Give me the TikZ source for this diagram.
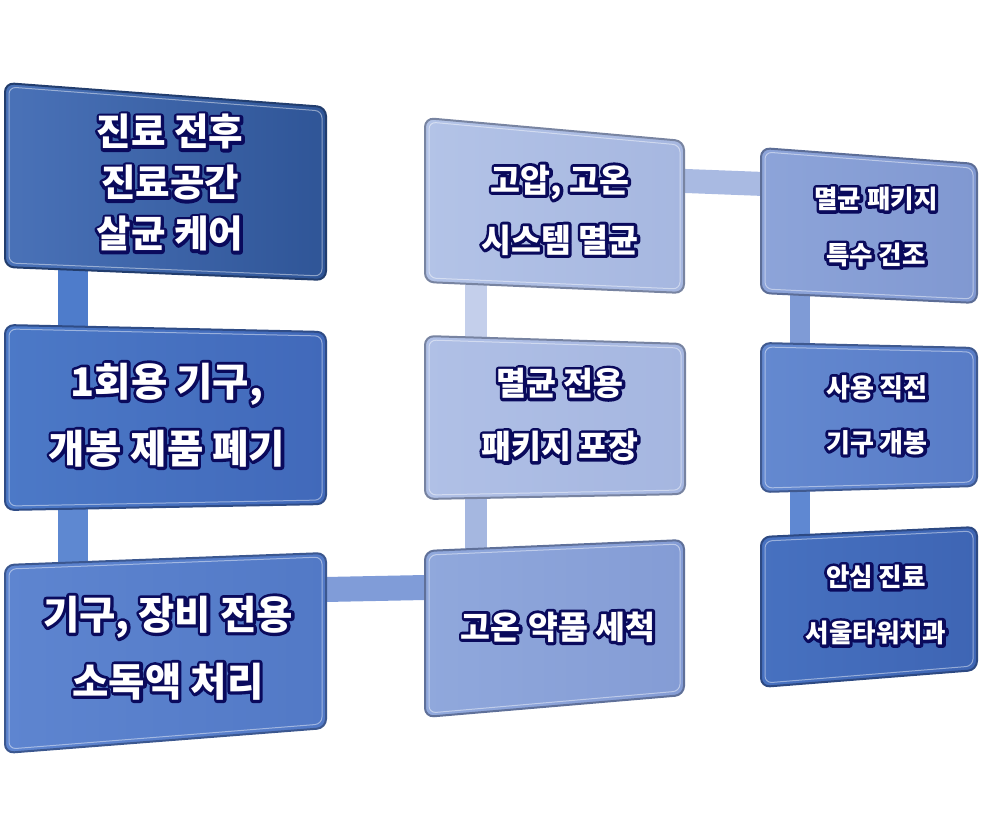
\documentclass[tikz,border=0pt]{standalone}
\usepackage{fontspec}
\setmainfont{Noto Sans CJK KR}
\usetikzlibrary{calc}
\definecolor{navy}{HTML}{0A0A5C}
\definecolor{bA1}{HTML}{4A72B8}\definecolor{bA2}{HTML}{2F5597}
\definecolor{bB1}{HTML}{4C79C7}\definecolor{bB2}{HTML}{4169BA}
\definecolor{bC1}{HTML}{5E85D0}\definecolor{bC2}{HTML}{5279C6}
\definecolor{bD1}{HTML}{B3C3E7}\definecolor{bD2}{HTML}{A6B7E0}
\definecolor{bE1}{HTML}{B0C0E6}\definecolor{bE2}{HTML}{A5B6E0}
\definecolor{bF1}{HTML}{90A8DC}\definecolor{bF2}{HTML}{849CD5}
\definecolor{bG1}{HTML}{8DA4D9}\definecolor{bG2}{HTML}{8098D1}
\definecolor{bH1}{HTML}{6489D0}\definecolor{bH2}{HTML}{587CC7}
\definecolor{bI1}{HTML}{4771C0}\definecolor{bI2}{HTML}{3E65B4}
\definecolor{k12}{HTML}{4E7CCB}
\definecolor{k23}{HTML}{5E88D1}
\definecolor{k36}{HTML}{809CD8}
\definecolor{k65}{HTML}{A5B7E0}
\definecolor{k54}{HTML}{C4CFEB}
\definecolor{k47}{HTML}{A9BAE2}
\definecolor{k78}{HTML}{7F9BD6}
\definecolor{k89}{HTML}{5F88D2}
\newcommand\olon{\special{pdf:literal direct 2 Tr 6 w 1 j}}
\newcommand\oloff{\special{pdf:literal direct 0 Tr}}
\newcommand\gl[1]{\leavevmode\rlap{\color{navy}\olon#1\oloff}#1}
\newcommand\fsz[2]{\bfseries\fontsize{#1}{#2}\selectfont}
\newcommand\qbox[6]{%
  \shade[left color=#5, right color=#6, rounded corners=9pt] #1 -- #2 -- #3 -- #4 -- cycle;
  \draw[rounded corners=9pt, line width=2pt, draw=#6!72!black] #1 -- #2 -- #3 -- #4 -- cycle;
  \draw[rounded corners=7pt, line width=1pt, white, opacity=.45] ($#1+(4,4)$) -- ($#2+(-4,4)$) -- ($#3+(-4,-4)$) -- ($#4+(4,-4)$) -- cycle;
}
\tikzset{
  txt/.style={text=white, align=center, inner sep=0pt},
  bar/.style={line width=#1, line cap=butt},
}
\begin{document}
\begin{tikzpicture}[x=1pt,y=-1pt]
\fill[white] (0,0) rectangle (1000,835);
\useasboundingbox (0,0) rectangle (1000,835);
\path
  (170,183) coordinate (p1)
  (167,415) coordinate (p2)
  (168,648) coordinate (p3)
  (560,210) coordinate (p4)
  (560,415) coordinate (p5)
  (558,627) coordinate (p6)
  (876,227) coordinate (p7)
  (877,415) coordinate (p8)
  (876,605) coordinate (p9);
% connectors
\draw[bar=30pt, k12] ($(p1)+(-97,60)$) -- ($(p2)+(-94,-70)$);
\draw[bar=30pt, k23] ($(p2)+(-94,80)$) -- ($(p3)+(-95,-70)$);
\draw[bar=25pt, k36] ($(p3)+(132,-58)$) -- ($(p6)+(-108,-40)$);
\draw[bar=22pt, k65] ($(p5)+(-84,65)$) -- ($(p6)+(-82,-62)$);
\draw[bar=22pt, k54] ($(p4)+(-84,60)$) -- ($(p5)+(-84,-65)$);
\draw[bar=24pt, k47] ($(p4)+(100,-30)$) -- ($(p7)+(-86,-42)$);
\draw[bar=20pt, k78] ($(p7)+(-76,60)$) -- ($(p8)+(-77,-60)$);
\draw[bar=20pt, k89] ($(p8)+(-77,60)$) -- ($(p9)+(-76,-60)$);
% boxes
\qbox{(5,83)}{(326,107)}{(326,280)}{(5,267)}{bA1}{bA2}
\qbox{(5,325)}{(326,332)}{(326,504)}{(5,510)}{bB1}{bB2}
\qbox{(5,565)}{(326,553)}{(326,728)}{(5,753)}{bC1}{bC2}
\qbox{(425,118)}{(684,141)}{(684,293)}{(425,282)}{bD1}{bD2}
\qbox{(425,336)}{(685,344)}{(685,494)}{(425,499)}{bE1}{bE2}
\qbox{(425,551)}{(684,540)}{(684,695)}{(425,717)}{bF1}{bF2}
\qbox{(761,148)}{(977,164)}{(977,303)}{(761,293)}{bG1}{bG2}
\qbox{(761,343)}{(977,348)}{(977,486)}{(761,492)}{bH1}{bH2}
\qbox{(761,537)}{(977,527)}{(977,670)}{(761,687)}{bI1}{bI2}
% labels
\node[txt, font=\fsz{37.5}{51}] (n1) at (p1) {\gl{진료 전후}\\\gl{진료공간}\\\gl{살균 케어}};
\node[txt, font=\fsz{39.5}{67}] (n2) at (p2) {\gl{1회용 기구,}\\\gl{개봉 제품 폐기}};
\node[txt, font=\fsz{39.5}{67}] (n3) at (p3) {\gl{기구, 장비 전용}\\\gl{소독액 처리}};
\node[txt, font=\fsz{32.5}{60}] (n4) at (p4) {\gl{고압, 고온}\\\gl{시스템 멸균}};
\node[txt, font=\fsz{32.5}{63}] (n5) at (p5) {\gl{멸균 전용}\\\gl{패키지 포장}};
\node[txt, font=\fsz{32.5}{60}] (n6) at (p6) {\gl{고온 약품 세척}};
\node[txt, font=\fsz{25.5}{56}] (n7) at (p7) {\gl{멸균 패키지}\\\gl{특수 건조}};
\node[txt, font=\fsz{26}{55}] (n8) at (p8) {\gl{사용 직전}\\\gl{기구 개봉}};
\node[txt, font=\fsz{25.5}{56}] (n9) at (p9) {\gl{안심 진료}\\\gl{서울타워치과}};
\end{tikzpicture}
\end{document}
